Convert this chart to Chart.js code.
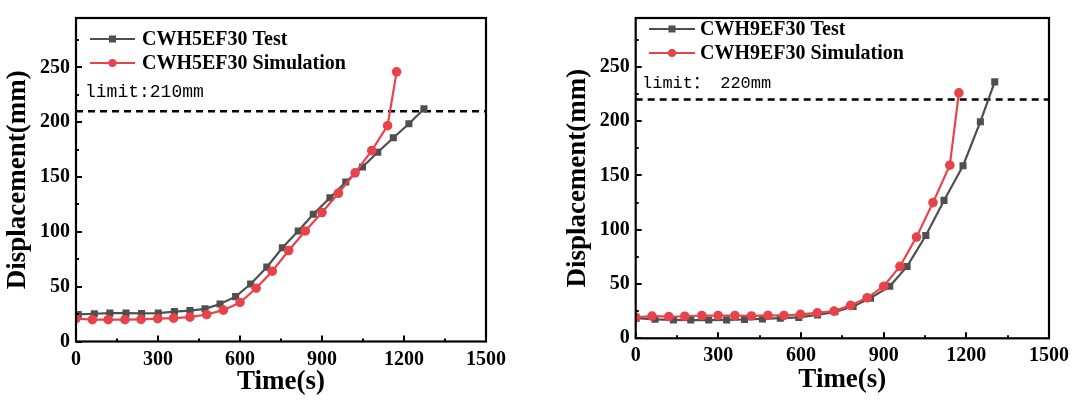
<!DOCTYPE html>
<html><head><meta charset="utf-8">
<script src="https://cdn.jsdelivr.net/npm/chart.js@4.4.1/dist/chart.umd.min.js"></script>
<style>
html,body{margin:0;padding:0;background:#fff;width:1080px;height:403px;overflow:hidden}
canvas{position:absolute;top:0}
#c1{left:0}#c2{left:540px}
</style></head>
<body>
<canvas id="c1" width="540" height="403"></canvas>
<canvas id="c2" width="540" height="403"></canvas>
<script>
// ---- data ----
const xTicks = [0, 300, 600, 900, 1200, 1500];
const xMinor = [150, 450, 750, 1050, 1350];
const yTicks = [0, 50, 100, 150, 200, 250];
const yMinor = [25, 75, 125, 175, 225, 275];

const labelsL = ['CWH5EF30 Test', 'CWH5EF30 Simulation'];
const testTimeL = [8, 67, 124, 183, 240, 301, 360, 417, 472, 527, 584, 639, 698, 755, 813, 868, 929, 987, 1048, 1104, 1161, 1218, 1273];
const testDispL = [24.7, 25.3, 25.9, 25.9, 25.6, 25.9, 27.3, 28.2, 29.8, 34.2, 40.9, 52.4, 67.8, 85.5, 100.7, 116.1, 131.1, 145.4, 159.2, 172.6, 185.8, 198.6, 212.1];
const simTimeL = [0, 60, 118, 179, 238, 299, 357, 417, 478, 539, 600, 659, 718, 778, 839, 900, 960, 1021, 1082, 1140, 1173];
const simDispL = [20.8, 19.9, 19.9, 19.9, 20.2, 20.8, 21.3, 22.2, 24.6, 28.6, 35.6, 48.6, 64.1, 83.0, 100.8, 117.6, 135.2, 153.8, 174.1, 196.8, 245.9];
const limitL = 210;
const limitTextL = 'limit:210mm';

const labelsR = ['CWH9EF30 Test', 'CWH9EF30 Simulation'];
const testTimeR = [2, 70, 137, 200, 265, 330, 395, 460, 525, 592, 660, 723, 789, 852, 922, 985, 1053, 1119, 1188, 1251, 1303];
const testDispR = [18.5, 17.5, 17.0, 16.8, 16.8, 17.0, 17.3, 17.9, 18.5, 19.3, 21.6, 24.4, 29.4, 37.0, 47.9, 66.2, 94.7, 127.0, 158.9, 199.5, 236.2];
const simTimeR = [0, 59, 120, 178, 240, 299, 360, 420, 480, 538, 598, 659, 720, 780, 840, 900, 959, 1019, 1079, 1140, 1173];
const simDispR = [19.4, 20.5, 20.0, 20.3, 21.0, 21.0, 21.0, 20.6, 21.2, 21.0, 22.1, 23.5, 25.0, 30.3, 37.3, 47.9, 66.2, 93.2, 125.0, 159.4, 226.0];
const limitR = 220;
const limitTextR = 'limit\uFF1A 220mm';

const xRange = [0, 1500];
const yRange = [0, 295];

// ---- styling ----
const GRAY = '#4f4f4f';
const RED = '#e8434b';
const SERIF = '"Liberation Serif", "Times New Roman", serif';

const decor = {
  id: 'decor',
  afterDraw(chart, args, o) {
    const ctx = chart.ctx, a = chart.chartArea, xs = chart.scales.x, ys = chart.scales.y;
    ctx.save();
    ctx.strokeStyle = '#000';
    ctx.lineWidth = 2;
    ctx.beginPath();
    xTicks.forEach(v => { const p = Math.round(xs.getPixelForValue(v)); ctx.moveTo(p, a.bottom); ctx.lineTo(p, a.bottom - 6); });
    xMinor.forEach(v => { const p = Math.round(xs.getPixelForValue(v)); ctx.moveTo(p, a.bottom); ctx.lineTo(p, a.bottom - 3); });
    yTicks.forEach(v => { const p = Math.round(ys.getPixelForValue(v)); ctx.moveTo(a.left, p); ctx.lineTo(a.left + 6, p); });
    yMinor.forEach(v => { const p = Math.round(ys.getPixelForValue(v)); ctx.moveTo(a.left, p); ctx.lineTo(a.left + 3, p); });
    ctx.stroke();
    ctx.lineWidth = 2.2;
    ctx.strokeRect(a.left, a.top, a.right - a.left, a.bottom - a.top);

    // limit text
    ctx.fillStyle = '#000';
    ctx.font = o.limitFont;
    ctx.textAlign = 'left';
    ctx.textBaseline = 'middle';
    ctx.fillText(o.limitText, o.limitX, ys.getPixelForValue(o.limit) + o.limitDy);

    // legend
    chart.data.datasets.slice(0, 2).forEach((ds, i) => {
      const y = o.legY[i];
      ctx.strokeStyle = ds.borderColor;
      ctx.lineWidth = 2.2;
      ctx.beginPath();
      ctx.moveTo(o.legX0, y); ctx.lineTo(o.legX1, y); ctx.stroke();
      const cx = (o.legX0 + o.legX1) / 2;
      ctx.fillStyle = ds.backgroundColor;
      if (ds.pointStyle === 'rect') {
        ctx.fillRect(cx - 3.5, y - 3.5, 7, 7);
      } else {
        ctx.beginPath(); ctx.arc(cx, y, 4, 0, Math.PI * 2); ctx.fill();
      }
      ctx.fillStyle = '#000';
      ctx.font = 'bold 20px ' + SERIF;
      ctx.fillText(ds.label, o.legText, y + 1);
    });
    ctx.restore();
  }
};

function pts(t, v) { return t.map((x, i) => ({ x: x, y: v[i] })); }

function makeChart(id, labels, tT, tD, sT, sD, limit, limitText, lay) {
  return new Chart(document.getElementById(id), {
    type: 'line',
    data: {
      datasets: [
        { label: labels[0], data: pts(tT, tD), borderColor: GRAY, backgroundColor: GRAY,
          pointStyle: 'rect', pointRadius: 5, pointBorderWidth: 0, borderWidth: 2.2, order: 1, tension: 0 },
        { label: labels[1], data: pts(sT, sD), borderColor: RED, backgroundColor: RED,
          pointStyle: 'circle', pointRadius: 4.8, pointBorderWidth: 0, borderWidth: 2.2, order: 0, tension: 0 },
        { label: 'limit', data: [{ x: xRange[0], y: limit }, { x: xRange[1], y: limit }], borderColor: '#000',
          borderDash: [7, 5], borderWidth: 2.5, pointRadius: 0, order: 2 }
      ]
    },
    options: {
      responsive: false, animation: false, devicePixelRatio: 1,
      layout: { padding: lay.padding },
      plugins: {
        legend: { display: false }, tooltip: { enabled: false },
        decor: { limit: limit, limitText: limitText, limitX: lay.limitX, limitDy: lay.limitDy, limitFont: lay.limitFont,
                 legX0: lay.legX0, legX1: lay.legX1, legText: lay.legText, legY: lay.legY }
      },
      scales: {
        x: {
          type: 'linear', min: xRange[0], max: xRange[1],
          afterBuildTicks: s => { s.ticks = xTicks.map(v => ({ value: v })); },
          afterFit: s => { s.height = lay.xH; },
          grid: { display: false, drawTicks: false }, border: { display: false },
          ticks: { color: '#000', padding: 6, maxRotation: 0, callback: v => String(v),
                   font: { family: SERIF, size: 20, weight: 'bold' } },
          title: { display: true, text: 'Time(s)', color: '#000', padding: { top: 0, bottom: lay.xTitlePad },
                   font: { family: SERIF, size: 27, weight: 'bold' } }
        },
        y: {
          type: 'linear', min: yRange[0], max: yRange[1],
          afterBuildTicks: s => { s.ticks = yTicks.map(v => ({ value: v })); },
          afterFit: s => { s.width = lay.yW; },
          grid: { display: false, drawTicks: false }, border: { display: false },
          ticks: { color: '#000', padding: 6, callback: v => String(v),
                   font: { family: SERIF, size: 20, weight: 'bold' } },
          title: { display: true, text: 'Displacement(mm)', color: '#000', padding: { top: lay.yTitlePad, bottom: 0 },
                   font: { family: SERIF, size: 27, weight: 'bold' } }
        }
      }
    },
    plugins: [decor]
  });
}

makeChart('c1', labelsL, testTimeL, testDispL, simTimeL, simDispL, limitL, limitTextL, {
  padding: { left: 0, right: 54, top: 13, bottom: 0 }, xH: 61.5, yW: 76, xTitlePad: 5, yTitlePad: 2,
  limitX: 85, limitDy: -19, limitFont: '18px "Liberation Mono", monospace',
  legX0: 90, legX1: 135, legText: 142, legY: [39, 63]
});
makeChart('c2', labelsR, testTimeR, testDispR, simTimeR, simDispR, limitR, limitTextR, {
  padding: { left: 20, right: 31, top: 3, bottom: 0 }, xH: 64.7, yW: 75.7, xTitlePad: 7, yTitlePad: 2,
  limitX: 102, limitDy: -16, limitFont: '17px "Liberation Mono", "Noto Sans CJK SC", monospace',
  legX0: 109, legX1: 155, legText: 160, legY: [29, 53]
});
</script>
</body></html>
